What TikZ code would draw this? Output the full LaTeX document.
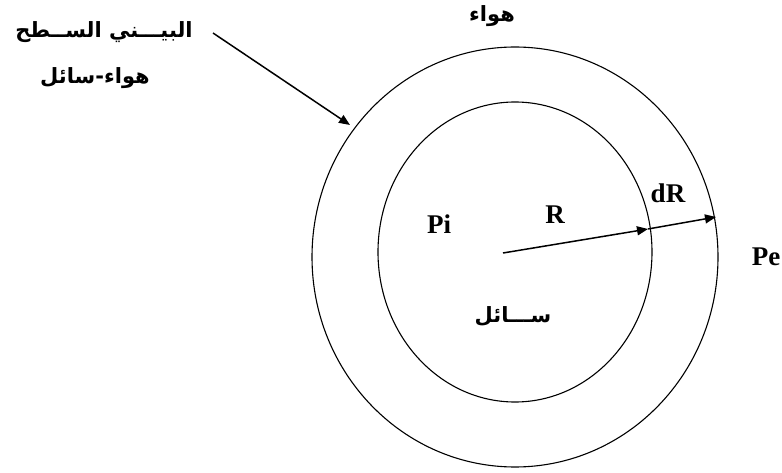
\documentclass[tikz,border=0pt]{standalone}
\usepackage{fontspec}
\setmainfont{Liberation Serif}
\newfontfamily\arabicfont[Script=Arabic]{DejaVu Sans}
\TeXXeTstate=1
\usetikzlibrary{arrows.meta}
\begin{document}
\begin{tikzpicture}[x=1pt,y=-1pt,
  ring/.style={draw=black,line width=1.1pt},
  vec/.style={draw=black,line width=1.5pt,-{Triangle[length=11pt,width=9pt]}},
  lat/.style={font=\fontsize{27}{30}\selectfont\bfseries,inner sep=0pt},
  ara/.style={font=\arabicfont\bfseries\fontsize{21}{24}\selectfont,inner sep=0pt}]
\useasboundingbox (0,0) rectangle (782,473);
\draw[ring] (515,257) ellipse [x radius=203, y radius=210];
\draw[ring] (515,252) ellipse [x radius=137, y radius=150];
\coordinate (c) at (503,253);
\coordinate (r1) at (648,229);
\coordinate (r2) at (716,217);
\coordinate (p0) at (213,33);
\coordinate (p1) at (350,125);
\draw[vec] (c) -- (r1);
\draw[vec] (r1) -- (r2);
\draw[vec] (p0) -- (p1);
\node[lat] (pi) at (439,224) {Pi};
\node[lat] (R) at (555,215) {R};
\node[lat] (dR) at (668,193) {dR};
\node[lat] (pe) at (766,257) {Pe};
\node[ara] (liq) at (513,316) {ســـائل};
\node[ara] (air) at (492,16) {هواء};
\node[ara] (iface) at (104,32) {الســطح البيـــني};
\node[ara] (airliq) at (95,78) {هواء-سائل};
\end{tikzpicture}
\end{document}
